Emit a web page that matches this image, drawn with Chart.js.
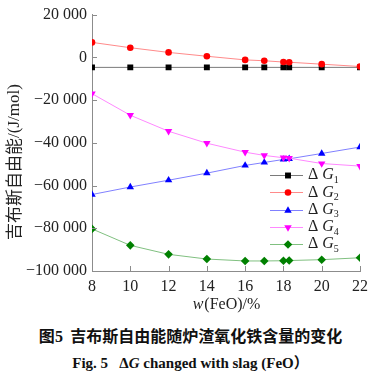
<!DOCTYPE html>
<html><head><meta charset="utf-8">
<script src="https://cdn.jsdelivr.net/npm/chart.js@4/dist/chart.umd.min.js"></script>
<style>
html,body{margin:0;padding:0;background:#fff;}
#wrap{position:relative;width:381px;height:379px;overflow:hidden;}
#cbox{position:absolute;left:0;top:0;width:381px;height:315px;}
.cap{position:absolute;left:0;width:381px;text-align:center;font-weight:bold;color:#111;white-space:pre;}
#cap1{top:324px;font-family:"Noto Sans CJK SC","Liberation Serif",serif;font-size:16px;line-height:22px;}
#cap2{top:352px;font-family:"Liberation Serif",serif;font-size:15px;line-height:20px;}
</style></head>
<body><div id="wrap">
<div id="cbox"><canvas id="c"></canvas></div>
<div class="cap" id="cap1">图<span style="font-family:'Liberation Serif'">5</span>  吉布斯自由能随炉渣氧化铁含量的变化</div>
<div class="cap" id="cap2">Fig. 5   Δ<i>G</i> changed with slag (FeO<span style="font-family:'Noto Sans CJK SC'">）</span></div>
</div>
<script>
const feo = [8, 10, 12, 14, 16, 17, 18, 18.3, 20, 22];
const dG1 = [-4700, -4700, -4700, -4700, -4700, -4700, -4700, -4700, -4700, -4700];
const dG2 = [7000, 4500, 2300, 500, -1200, -1600, -2200, -2300, -3200, -4300];
const dG3 = [-64200, -60700, -57500, -54200, -50600, -49200, -47800, -47500, -45000, -42000];
const dG4 = [-17000, -27100, -34600, -40200, -44400, -45900, -47000, -47200, -49700, -50900];
const dG5 = [-80300, -88000, -92200, -94400, -95300, -95300, -95200, -95100, -94700, -93800];
const seriesNames = ["1", "2", "3", "4", "5"];
const xTicks = [8, 10, 12, 14, 16, 18, 20, 22];
const yTicks = [20000, 0, -20000, -40000, -60000, -80000, -100000];

const styles = [
  {line:'#7a7a7a', mk:'#000000', ps:'rect', r:4.2, rot:0},
  {line:'#ff8a8a', mk:'#ff0000', ps:'circle', r:3.3, rot:0},
  {line:'#8080ff', mk:'#0000ff', ps:'triangle', r:4.3, rot:0},
  {line:'#ff88ff', mk:'#ff00ff', ps:'triangle', r:4.3, rot:180},
  {line:'#80c080', mk:'#008000', ps:'rectRot', r:4.3, rot:0}
];
const allData = [dG1, dG2, dG3, dG4, dG5];
const datasets = allData.map((d, i) => ({
  label: 'ΔG' + seriesNames[i],
  data: feo.map((x, k) => ({x: x, y: d[k]})),
  borderColor: styles[i].line,
  backgroundColor: styles[i].mk,
  pointBackgroundColor: styles[i].mk,
  pointBorderColor: styles[i].mk,
  pointBorderWidth: 0,
  pointStyle: styles[i].ps,
  pointRadius: styles[i].r,
  pointRotation: styles[i].rot,
  borderWidth: 1,
  tension: 0,
  order: 5 - i
}));

function fmt(v) {
  if (v === 0) return '0';
  const a = Math.abs(v);
  const s = String(a).replace(/\B(?=(\d{3})+(?!\d))/g, ' ');
  return (v < 0 ? '−' : '') + s;
}

function drawMarker(ctx, st, x, y) {
  ctx.save();
  ctx.fillStyle = st.mk;
  ctx.beginPath();
  const r = st.r;
  if (st.ps === 'rect') {
    const s = Math.SQRT1_2 * r;
    ctx.rect(x - s, y - s, 2 * s, 2 * s);
  } else if (st.ps === 'circle') {
    ctx.arc(x, y, r, 0, Math.PI * 2);
  } else if (st.ps === 'triangle') {
    let rad = st.rot * Math.PI / 180;
    ctx.moveTo(x + Math.sin(rad) * r, y - Math.cos(rad) * r);
    rad += 2 * Math.PI / 3;
    ctx.lineTo(x + Math.sin(rad) * r, y - Math.cos(rad) * r);
    rad += 2 * Math.PI / 3;
    ctx.lineTo(x + Math.sin(rad) * r, y - Math.cos(rad) * r);
    ctx.closePath();
  } else if (st.ps === 'rectRot') {
    ctx.moveTo(x, y - r); ctx.lineTo(x + r, y); ctx.lineTo(x, y + r); ctx.lineTo(x - r, y); ctx.closePath();
  }
  ctx.fill();
  ctx.restore();
}

const decor = {
  id: 'decor',
  afterDraw(chart) {
    const ctx = chart.ctx;
    const xs = chart.scales.x, ys = chart.scales.y;
    const ca = chart.chartArea;
    ctx.save();
    ctx.strokeStyle = '#8c8c8c';
    ctx.lineWidth = 1;
    // inward ticks
    ctx.beginPath();
    xTicks.forEach(v => { const px = Math.round(xs.getPixelForValue(v)) + 0.5; ctx.moveTo(px, ca.bottom); ctx.lineTo(px, ca.bottom - 5); });
    yTicks.forEach(v => { const py = Math.round(ys.getPixelForValue(v)) + 0.5; ctx.moveTo(ca.left, py); ctx.lineTo(ca.left + 5, py); });
    ctx.stroke();
    // x title
    ctx.fillStyle = '#222';
    ctx.textBaseline = 'middle';
    const t1 = 'w', t2 = '(FeO)/%';
    ctx.font = 'italic 16px "Liberation Serif"';
    const w1 = ctx.measureText(t1).width;
    ctx.font = '16px "Liberation Serif"';
    const w2 = ctx.measureText(t2).width;
    let sx = 226 - (w1 + w2) / 2;
    ctx.textAlign = 'left';
    ctx.font = 'italic 16px "Liberation Serif"';
    ctx.fillText(t1, sx, 305);
    ctx.font = '16px "Liberation Serif"';
    ctx.fillText(t2, sx + w1 + 1, 305);
    // y title
    ctx.save();
    ctx.translate(14, 162);
    ctx.rotate(-Math.PI / 2);
    const a = '吉布斯自由能', b = '/(J/mol)';
    ctx.font = '17px "Noto Sans CJK SC"';
    const wa = ctx.measureText(a).width;
    ctx.font = '17px "Liberation Serif"';
    const wb = ctx.measureText(b).width;
    let st = -(wa + wb) / 2;
    ctx.font = '17px "Noto Sans CJK SC"';
    ctx.fillText(a, st, 0);
    ctx.font = '17px "Liberation Serif"';
    ctx.fillText(b, st + wa, 1);
    ctx.restore();
    // legend
    const ly0 = 175, dy = 17.3;
    styles.forEach((s, i) => {
      const y = ly0 + i * dy;
      ctx.strokeStyle = s.line;
      ctx.beginPath(); ctx.moveTo(270, Math.round(y) + 0.5); ctx.lineTo(303, Math.round(y) + 0.5); ctx.stroke();
      drawMarker(ctx, s, 288, Math.round(y) + 0.5);
      ctx.fillStyle = '#222';
      ctx.textAlign = 'left';
      ctx.font = '16px "Liberation Serif"';
      ctx.fillText('Δ', 308, y);
      const wd = ctx.measureText('Δ ').width;
      ctx.font = 'italic 16px "Liberation Serif"';
      ctx.fillText('G', 308 + wd, y);
      const wg = ctx.measureText('G').width;
      ctx.font = '10px "Liberation Serif"';
      ctx.fillText(seriesNames[i], 308 + wd + wg, y + 5);
    });
    ctx.restore();
  }
};

new Chart(document.getElementById('c'), {
  type: 'line',
  data: { datasets: datasets },
  options: {
    responsive: true,
    maintainAspectRatio: false,
    animation: false,
    devicePixelRatio: 1,
    layout: { padding: { left: 0, right: 21, top: 14, bottom: 0 } },
    plugins: { legend: { display: false }, tooltip: { enabled: false } },
    scales: {
      x: {
        type: 'linear', min: 8, max: 22,
        afterFit(s) { s.height = 44; },
        afterBuildTicks(s) { s.ticks = xTicks.map(v => ({value: v})); },
        grid: { display: false, drawTicks: false },
        border: { display: true, color: '#8c8c8c', width: 1 },
        ticks: { padding: 6, color: '#222', font: { family: '"Liberation Serif"', size: 16 }, maxRotation: 0 }
      },
      y: {
        type: 'linear', min: -100000, max: 20000,
        afterFit(s) { s.width = 92; },
        afterBuildTicks(s) { s.ticks = yTicks.map(v => ({value: v})); },
        grid: { display: false, drawTicks: false },
        border: { display: true, color: '#8c8c8c', width: 1 },
        ticks: { padding: 5, color: '#222', font: { family: '"Liberation Serif"', size: 16 }, callback: v => fmt(v) }
      }
    }
  },
  plugins: [decor]
});
</script>
</body></html>
